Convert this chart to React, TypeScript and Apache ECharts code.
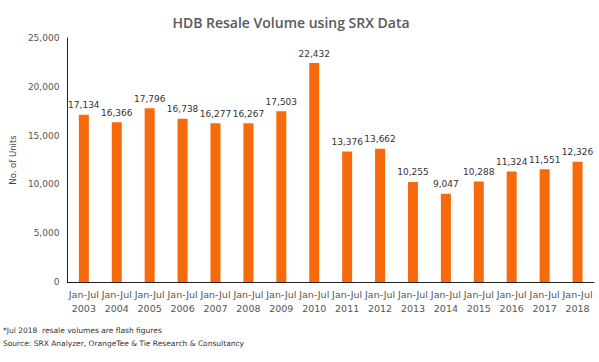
import React, { useEffect, useRef } from "react";
import * as echarts from "echarts";

const years = ["2003","2004","2005","2006","2007","2008","2009","2010","2011","2012","2013","2014","2015","2016","2017","2018"];
const categories = years.map((y) => `Jan-Jul\n${y}`);
const volumes = [17134, 16366, 17796, 16738, 16277, 16267, 17503, 22432, 13376, 13662, 10255, 9047, 10288, 11324, 11551, 12326];
const yTicks = { min: 0, max: 25000, interval: 5000 };
const titleText = "HDB Resale Volume using SRX Data";
const yAxisName = "No. of Units";
const footnotes = [
  "*Jul 2018  resale volumes are flash figures",
  "Source: SRX Analyzer, OrangeTee & Tie Research & Consultancy",
];

const FONT = "DejaVu Sans";

export default function App() {
  const ref = useRef<HTMLDivElement>(null);
  useEffect(() => {
    if (!ref.current) return;
    const chart = echarts.init(ref.current, undefined, { renderer: "svg" });
    chart.setOption({
      animation: false,
      backgroundColor: "#ffffff",
      title: {
        text: titleText,
        left: 286,
        top: 10,
        textAlign: "center",
        textStyle: { fontFamily: "Open Sans", fontWeight: 600, fontSize: 14, color: "#595959" },
      },
      grid: { left: 49, right: 5, top: 38, bottom: 80, containLabel: false },
      xAxis: {
        type: "category",
        data: categories,
        axisLine: { show: true, lineStyle: { color: "#222", width: 1 } },
        axisTick: { show: false },
        axisLabel: {
          interval: 0,
          color: "#555",
          fontFamily: FONT,
          fontSize: 9.5,
          lineHeight: 14,
          margin: 5,
        },
      },
      yAxis: {
        type: "value",
        min: yTicks.min,
        max: yTicks.max,
        interval: yTicks.interval,
        name: yAxisName,
        nameLocation: "middle",
        nameGap: 39,
        nameRotate: 90,
        nameTextStyle: { fontFamily: FONT, fontSize: 8.5, color: "#444" },
        axisLine: { show: true, lineStyle: { color: "#222", width: 1 } },
        axisTick: { show: false },
        splitLine: { show: false },
        axisLabel: {
          color: "#555",
          fontFamily: FONT,
          fontSize: 9,
          margin: 8,
          formatter: (v: number) => v.toLocaleString("en-US"),
        },
      },
      series: [
        {
          type: "bar",
          data: volumes,
          barWidth: 10,
          itemStyle: { color: "#F76A0C" },
          label: {
            show: true,
            position: "top",
            distance: 5,
            color: "#333",
            fontFamily: FONT,
            fontSize: 9,
            formatter: (p: any) => Number(p.value).toLocaleString("en-US"),
          },
        },
      ],
      graphic: footnotes.map((t, i) => ({
        type: "text",
        left: 3,
        top: 326 + i * 13,
        style: { text: t, fontFamily: FONT, fontSize: 7.5, fill: "#333" },
      })),
    });
    return () => chart.dispose();
  }, []);
  return <div ref={ref} style={{ width: 599, height: 362, position: "absolute", left: 0, top: 0 }} />;
}
